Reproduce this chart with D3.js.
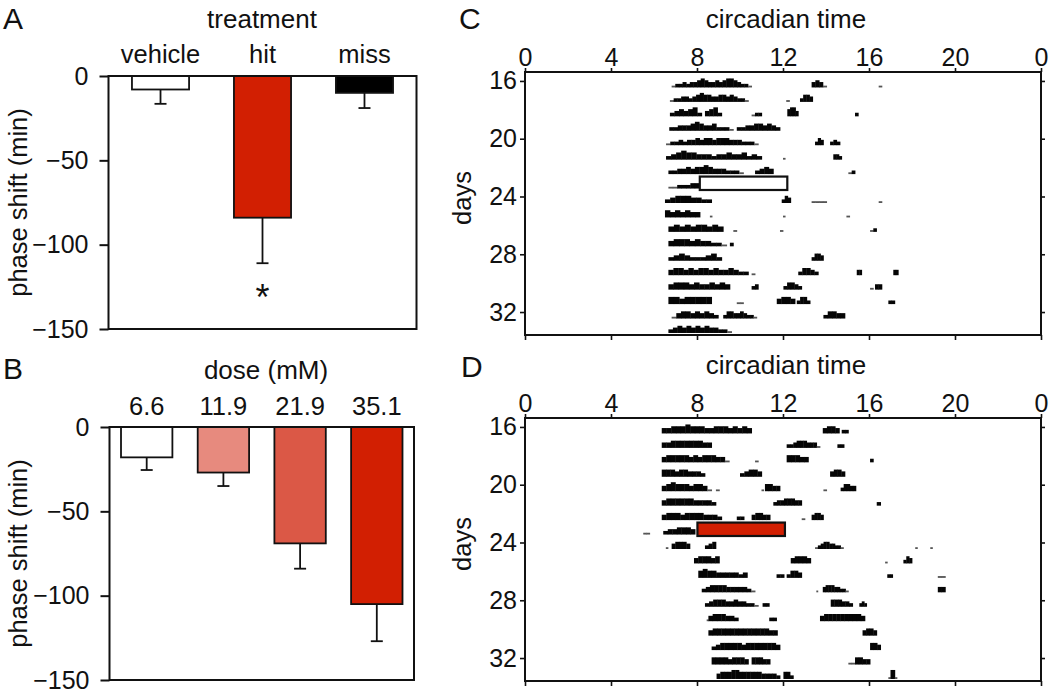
<!DOCTYPE html>
<html><head><meta charset="utf-8">
<script src="https://cdn.jsdelivr.net/npm/d3@7"></script>
<style>
html,body{margin:0;padding:0;background:#fff;}
text{font-family:Arial,"Liberation Sans",Helvetica,sans-serif;fill:#111;}
</style></head>
<body><svg id="fig" width="1050" height="692"></svg>
<script>
// ---------- Panel A data ----------
const treatCats = ["vehicle", "hit", "miss"];
const treatMeans = [-8, -84, -10];
const treatErr = [8.5, 27, 9];
const treatColors = ["#ffffff", "#d21f02", "#000000"];
// ---------- Panel B data ----------
const doseCats = ["6.6", "11.9", "21.9", "35.1"];
const doseMeans = [-18, -27, -69, -105];
const doseErr = [7.5, 8, 15, 22];
const doseColors = ["#ffffff", "#e78a7e", "#db5846", "#d21f02"];
const phaseTicks = [0, -50, -100, -150];
// ---------- Actogram axes ----------
const ctTicks = [0, 4, 8, 12, 16, 20, 24];
const dayTicks = [16, 20, 24, 28, 32];
// bouts per day: [start CT, end CT, height profile]
const actoC = [
 [16, [[6.82,10.54,"1223233454334345543221"],[13.33,14.03,"3431"],[16.45,16.6,"1"]]],
 [17, [[6.74,10.39,"122332345443344343221"],[12.15,12.3,"1"],[12.79,13.38,"2443"]]],
 [18, [[6.74,8.22,"2343452"],[8.37,9.15,"3452"],[10.54,11.01,"122"],[12.2,12.71,"4553"],[15.35,15.5,"2"]]],
 [19, [[6.71,9.69,"223334543342221"],[9.85,11.86,"2233443432"]]],
 [20, [[6.56,10.85,"1223233434434443332221"],[13.49,13.88,"243"],[14.19,14.65,"232"]]],
 [21, [[6.56,11.01,"2345443332334334232"],[12.0,12.1,"1"],[14.34,14.73,"332"]]],
 [22, [[6.67,10.16,"22334344543332221"],[10.7,11.55,"2343"],[15.04,15.35,"12"]]],
 [23, [[6.67,8.1,"1122233"]]],
 [24, [[6.51,8.68,"234443322"],[11.94,12.36,"243"],[13.33,14.03,"1111"],[16.45,16.6,"1"]]],
 [25, [[6.51,8.14,"4343433"],[8.6,8.7,"1"],[12.0,12.1,"1"],[14.95,15.1,"1"]]],
 [26, [[6.67,9.22,"3434344343"],[9.69,9.85,"1"],[11.86,12.0,"1"],[16.05,16.35,"12"]]],
 [27, [[6.67,9.38,"34443433221"],[9.53,9.69,"2"]]],
 [28, [[6.67,9.15,"2343222342"],[13.33,13.88,"2443"]]],
 [29, [[6.67,10.39,"3443434434334322"],[10.54,10.7,"1"],[12.71,13.64,"24432"],[15.43,15.66,"33"],[17.13,17.36,"33"]]],
 [30, [[6.67,9.53,"344434334343"],[10.54,10.85,"23"],[12.02,12.87,"24432"],[16.05,16.2,"1"],[16.28,16.6,"33"]]],
 [31, [[6.67,8.68,"44344444"],[9.85,10.16,"11"],[11.71,12.56,"3443"],[12.64,13.26,"2442"],[16.9,17.2,"22"]]],
 [32, [[6.82,8.99,"1344343432"],[9.22,10.78,"2443343221"],[13.88,14.88,"24433"]]],
 [33, [[6.67,9.61,"23434343433221"]]]
];
const actoD = [
 [16, [[6.36,10.54,"3344454443344434343"],[13.85,14.62,"3443"],[14.73,15.04,"22"]]],
 [17, [[6.36,8.68,"33444444433"],[12.17,13.72,"2234443331"],[14.53,14.84,"22"]]],
 [18, [[6.36,9.5,"344444343444331"],[10.7,10.85,"1"],[12.17,13.18,"44433"],[16.05,16.2,"2"]]],
 [19, [[6.36,8.37,"4443443332"],[10.0,11.01,"23443"],[14.19,14.88,"3443"]]],
 [20, [[6.36,8.68,"34544434431"],[8.88,9.04,"1"],[11.0,11.1,"1"],[11.16,11.86,"4433"],[13.88,14.03,"1"],[14.68,15.39,"24433"]]],
 [21, [[6.36,8.88,"344444433332"],[11.55,12.87,"23344433"],[16.36,16.54,"2"]]],
 [22, [[6.36,9.15,"3444344443332"],[9.85,10.19,"22"],[10.54,11.4,"34433"],[12.87,13.02,"1"],[13.33,13.88,"3443"]]],
 [23, [[5.5,5.8,"11"],[6.43,7.91,"2334443"]]],
 [24, [[6.55,6.65,"1"],[6.82,7.67,"34443"],[8.37,8.88,"234"],[13.49,14.81,"1234433221"],[18.15,18.25,"1"],[18.85,18.95,"1"]]],
 [25, [[7.86,9.04,"344434"],[12.36,13.29,"34443"],[16.75,16.85,"1"],[17.6,18.0,"243"]]],
 [26, [[8.06,10.34,"45443333323"],[11.7,12.05,"22"],[12.17,12.87,"2443"],[16.85,17.1,"22"],[19.2,19.55,"11"]]],
 [27, [[8.22,10.7,"2344443333321"],[13.55,13.62,"1"],[13.85,15.04,"344433221"],[19.2,19.55,"33"]]],
 [28, [[8.37,10.85,"2344433433221"],[11.05,11.36,"22"],[14.22,15.24,"444332"],[15.55,15.89,"232"]]],
 [29, [[8.45,8.53,"1"],[8.53,9.92,"3444332"],[11.36,11.7,"22"],[13.72,15.81,"34444444443"]]],
 [30, [[8.53,11.74,"3444444444444433"],[15.7,16.36,"3443"]]],
 [31, [[8.68,11.86,"2344444344444443"],[16.05,16.54,"443"]]],
 [32, [[8.68,10.39,"444434443"],[10.54,11.4,"44433"],[15.04,15.35,"11"],[15.35,16.05,"4433"]]],
 [33, [[8.91,11.86,"34445544444433332"],[12.02,12.48,"442"],[16.9,17.3,"1551"]]]
];
const pulseC = {day: 23, start: 8.13, end: 12.2, fill: "#ffffff"};
const pulseD = {day: 23, start: 8.02, end: 12.09, fill: "#d21f02"};

const FONT = "Arial, 'Liberation Sans', sans-serif";
const svg = d3.select("#fig");
svg.append("rect").attr("width",1050).attr("height",692).attr("fill","#fff");

function panelLetter(t, x, y){
  svg.append("text").attr("x",x).attr("y",y).attr("font-size",30).text(t);
}

function barPanel(cfg){
  const g = svg.append("g");
  const x = d3.scaleBand(cfg.cats, [cfg.x0, cfg.x1]).paddingInner(cfg.pi).paddingOuter(cfg.po);
  const y = d3.scaleLinear([0, -150], [cfg.y0, cfg.y1]);
  const data = cfg.cats.map((c,i)=>({c, m: cfg.means[i], e: cfg.err[i], col: cfg.colors[i]}));
  g.selectAll("line.err").data(data).join("line")
    .attr("x1", d=>x(d.c)+x.bandwidth()/2).attr("x2", d=>x(d.c)+x.bandwidth()/2)
    .attr("y1", d=>y(d.m)).attr("y2", d=>y(d.m - d.e))
    .attr("stroke","#111").attr("stroke-width",1.8);
  g.selectAll("line.cap").data(data).join("line")
    .attr("x1", d=>x(d.c)+x.bandwidth()/2-6).attr("x2", d=>x(d.c)+x.bandwidth()/2+6)
    .attr("y1", d=>y(d.m - d.e)).attr("y2", d=>y(d.m - d.e))
    .attr("stroke","#111").attr("stroke-width",1.8);
  g.selectAll("rect.bar").data(data).join("rect")
    .attr("x", d=>x(d.c)).attr("width", x.bandwidth())
    .attr("y", y(0)).attr("height", d=>y(d.m)-y(0))
    .attr("fill", d=>d.col).attr("stroke","#111").attr("stroke-width",1.8);
  g.append("rect").attr("x",cfg.x0).attr("y",cfg.y0).attr("width",cfg.x1-cfg.x0).attr("height",cfg.y1-cfg.y0)
    .attr("fill","none").attr("stroke","#111").attr("stroke-width",2);
  const ax = g.append("g").attr("transform",`translate(${cfg.x0},0)`)
    .call(d3.axisLeft(y).tickValues(phaseTicks).tickSize(9).tickPadding(11).tickFormat(d3.format("d")));
  ax.select(".domain").remove();
  ax.selectAll(".tick line").attr("stroke","#111").attr("stroke-width",2);
  ax.selectAll(".tick text").attr("font-size",25).attr("font-family",FONT).attr("fill","#111");
  g.selectAll("text.cat").data(data).join("text")
    .attr("x", d=>x(d.c)+x.bandwidth()/2).attr("y", cfg.catY)
    .attr("text-anchor","middle").attr("font-size",25.5).text(d=>d.c);
  g.append("text").attr("x",cfg.titleX).attr("y",cfg.titleY).attr("text-anchor","middle")
    .attr("font-size",26).text(cfg.title);
  g.append("text").attr("transform",`translate(27,${(cfg.y0+cfg.y1)/2}) rotate(-90)`)
    .attr("text-anchor","middle").attr("font-size",25.5).text("phase shift (min)");
  return {x, y, g};
}

const A = barPanel({cats: treatCats, means: treatMeans, err: treatErr, colors: treatColors,
  x0: 108.5, x1: 416.5, y0: 76, y1: 329, pi: 0.44, po: 0.23,
  catY: 63, title: "treatment", titleX: 262, titleY: 28});
A.g.append("text").attr("x", A.x("hit")+A.x.bandwidth()/2).attr("y", A.y(-139))
  .attr("text-anchor","middle").attr("font-size",36).text("*");

barPanel({cats: doseCats, means: doseMeans, err: doseErr, colors: doseColors,
  x0: 109.5, x1: 414, y0: 427, y1: 680, pi: 0.33, po: 0.15,
  catY: 415, title: "dose (mM)", titleX: 266, titleY: 379});

panelLetter("A", 3, 29);
panelLetter("B", 3, 379);

function actoPanel(cfg){
  const g = svg.append("g");
  const x = d3.scaleLinear([0, 24], [525, 1041]);
  const y = d3.scaleLinear([15.38, 33.59], [cfg.top, cfg.bottom]);
  const unit = 1.8;
  const bins = [];
  cfg.data.forEach(([day, bouts]) => {
    bouts.forEach(([s, e, prof]) => {
      const n = prof.length, w = (e - s) / n;
      for (let i = 0; i < n; i++) bins.push({day, t0: s + i*w, t1: s + (i+1)*w, h: +prof[i]});
    });
  });
  g.selectAll("rect.act").data(bins).join("rect")
    .attr("x", d=>x(d.t0)).attr("width", d=>x(d.t1)-x(d.t0)+0.4)
    .attr("y", d=>y(d.day+0.45) - d.h*unit).attr("height", d=>d.h*unit)
    .attr("fill", d=> d.h===1 ? "#555" : "#050505");
  const p = cfg.pulse;
  g.append("rect").attr("x", x(p.start)).attr("width", x(p.end)-x(p.start))
    .attr("y", y(p.day-0.38)).attr("height", y(p.day+0.55)-y(p.day-0.38))
    .attr("fill", p.fill).attr("stroke","#111").attr("stroke-width",2.2);
  g.append("rect").attr("x",525).attr("y",cfg.top).attr("width",516).attr("height",cfg.bottom-cfg.top)
    .attr("fill","none").attr("stroke","#111").attr("stroke-width",2);
  const style = sel => {
    sel.select(".domain").remove();
    sel.selectAll(".tick line").attr("stroke","#111").attr("stroke-width",1.6);
    sel.selectAll(".tick text").attr("font-size",25).attr("font-family",FONT).attr("fill","#111");
  };
  g.append("g").attr("transform",`translate(0,${cfg.top})`)
    .call(d3.axisTop(x).tickValues(ctTicks).tickSize(4).tickPadding(2).tickFormat(d=> d===24 ? "0" : d)).call(style);
  g.append("g").attr("transform",`translate(0,${cfg.bottom})`)
    .call(d3.axisBottom(x).tickValues(ctTicks).tickSize(5).tickFormat("")).call(style);
  g.append("g").attr("transform",`translate(525,0)`)
    .call(d3.axisLeft(y).tickValues(dayTicks).tickSize(5).tickPadding(3)).call(style);
  g.append("g").attr("transform",`translate(1041,0)`)
    .call(d3.axisRight(y).tickValues(dayTicks).tickSize(4).tickFormat("")).call(style);
  g.append("text").attr("x",786).attr("y",cfg.top-44).attr("text-anchor","middle").attr("font-size",26).text("circadian time");
  g.append("text").attr("transform",`translate(471,${y(24.1)}) rotate(-90)`)
    .attr("text-anchor","middle").attr("font-size",25.5).text("days");
}

actoPanel({data: actoC, pulse: pulseC, top: 72, bottom: 335});
actoPanel({data: actoD, pulse: pulseD, top: 418, bottom: 681});
panelLetter("C", 459, 29);
panelLetter("D", 461, 377);
</script></body></html>
